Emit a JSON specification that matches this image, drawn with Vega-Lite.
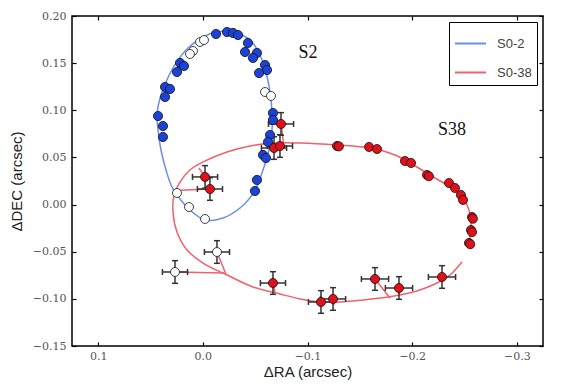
{
  "$schema": "https://vega.github.io/schema/vega-lite/v6.json",
  "width": 471,
  "height": 330,
  "autosize": "none",
  "padding": {"left": 72, "top": 16, "right": 19, "bottom": 43},
  "background": "white",
  "config": {
    "view": {"stroke": "#000", "strokeWidth": 1.5},
    "axis": {
      "grid": false,
      "domain": false,
      "tickSize": -4,
      "tickColor": "#000",
      "tickWidth": 1.2,
      "labelFont": "DejaVu Serif",
      "labelFontSize": 11,
      "labelColor": "#555",
      "titleFont": "Liberation Sans",
      "titleFontSize": 15,
      "titleFontWeight": "normal",
      "titleColor": "#222"
    }
  },
  "datasets": {
    "orbits": [
      {"star": "S0-2", "i": 0, "x": -0.0212, "y": 0.1841},
      {"star": "S0-2", "i": 1, "x": -0.0355, "y": 0.1809},
      {"star": "S0-2", "i": 2, "x": -0.0470, "y": 0.1724},
      {"star": "S0-2", "i": 3, "x": -0.0546, "y": 0.1586},
      {"star": "S0-2", "i": 4, "x": -0.0603, "y": 0.1406},
      {"star": "S0-2", "i": 5, "x": -0.0642, "y": 0.1194},
      {"star": "S0-2", "i": 6, "x": -0.0661, "y": 0.0982},
      {"star": "S0-2", "i": 7, "x": -0.0661, "y": 0.0791},
      {"star": "S0-2", "i": 8, "x": -0.0632, "y": 0.0579},
      {"star": "S0-2", "i": 9, "x": -0.0575, "y": 0.0367},
      {"star": "S0-2", "i": 10, "x": -0.0489, "y": 0.0133},
      {"star": "S0-2", "i": 11, "x": -0.0355, "y": -0.0036},
      {"star": "S0-2", "i": 12, "x": -0.0193, "y": -0.0142},
      {"star": "S0-2", "i": 13, "x": -0.0021, "y": -0.0164},
      {"star": "S0-2", "i": 14, "x": 0.0123, "y": -0.0057},
      {"star": "S0-2", "i": 15, "x": 0.0218, "y": 0.0059},
      {"star": "S0-2", "i": 16, "x": 0.0295, "y": 0.0186},
      {"star": "S0-2", "i": 17, "x": 0.0352, "y": 0.0367},
      {"star": "S0-2", "i": 18, "x": 0.0400, "y": 0.0579},
      {"star": "S0-2", "i": 19, "x": 0.0428, "y": 0.0791},
      {"star": "S0-2", "i": 20, "x": 0.0438, "y": 0.0950},
      {"star": "S0-2", "i": 21, "x": 0.0409, "y": 0.1130},
      {"star": "S0-2", "i": 22, "x": 0.0352, "y": 0.1300},
      {"star": "S0-2", "i": 23, "x": 0.0256, "y": 0.1502},
      {"star": "S0-2", "i": 24, "x": 0.0142, "y": 0.1661},
      {"star": "S0-2", "i": 25, "x": 0.0027, "y": 0.1756},
      {"star": "S0-2", "i": 26, "x": -0.0088, "y": 0.1820},
      {"star": "S0-2", "i": 27, "x": -0.0212, "y": 0.1841},
      {"star": "S0-38", "i": 0, "x": -0.2476, "y": -0.0609},
      {"star": "S0-38", "i": 1, "x": -0.2361, "y": -0.0747},
      {"star": "S0-38", "i": 2, "x": -0.2237, "y": -0.0832},
      {"star": "S0-38", "i": 3, "x": -0.2075, "y": -0.0906},
      {"star": "S0-38", "i": 4, "x": -0.1884, "y": -0.0959},
      {"star": "S0-38", "i": 5, "x": -0.1693, "y": -0.0991},
      {"star": "S0-38", "i": 6, "x": -0.1530, "y": -0.1012},
      {"star": "S0-38", "i": 7, "x": -0.1310, "y": -0.1033},
      {"star": "S0-38", "i": 8, "x": -0.1119, "y": -0.1033},
      {"star": "S0-38", "i": 9, "x": -0.0928, "y": -0.1001},
      {"star": "S0-38", "i": 10, "x": -0.0737, "y": -0.0948},
      {"star": "S0-38", "i": 11, "x": -0.0479, "y": -0.0874},
      {"star": "S0-38", "i": 12, "x": -0.0231, "y": -0.0747},
      {"star": "S0-38", "i": 13, "x": -0.0002, "y": -0.0620},
      {"star": "S0-38", "i": 14, "x": 0.0151, "y": -0.0482},
      {"star": "S0-38", "i": 15, "x": 0.0247, "y": -0.0291},
      {"star": "S0-38", "i": 16, "x": 0.0285, "y": -0.0079},
      {"star": "S0-38", "i": 17, "x": 0.0275, "y": 0.0102},
      {"star": "S0-38", "i": 18, "x": 0.0218, "y": 0.0239},
      {"star": "S0-38", "i": 19, "x": 0.0123, "y": 0.0367},
      {"star": "S0-38", "i": 20, "x": -0.0002, "y": 0.0452},
      {"star": "S0-38", "i": 21, "x": -0.0231, "y": 0.0558},
      {"star": "S0-38", "i": 22, "x": -0.0451, "y": 0.0621},
      {"star": "S0-38", "i": 23, "x": -0.0670, "y": 0.0653},
      {"star": "S0-38", "i": 24, "x": -0.0928, "y": 0.0653},
      {"star": "S0-38", "i": 25, "x": -0.1282, "y": 0.0632},
      {"star": "S0-38", "i": 26, "x": -0.1597, "y": 0.0600},
      {"star": "S0-38", "i": 27, "x": -0.1836, "y": 0.0526},
      {"star": "S0-38", "i": 28, "x": -0.2027, "y": 0.0409},
      {"star": "S0-38", "i": 29, "x": -0.2218, "y": 0.0282},
      {"star": "S0-38", "i": 30, "x": -0.2380, "y": 0.0176},
      {"star": "S0-38", "i": 31, "x": -0.2486, "y": 0.0070},
      {"star": "S0-38", "i": 32, "x": -0.2543, "y": -0.0057},
      {"star": "S0-38", "i": 33, "x": -0.2562, "y": -0.0217},
      {"star": "S0-38", "i": 34, "x": -0.2552, "y": -0.0354},
      {"star": "S0-38", "i": 35, "x": -0.2533, "y": -0.0460}
    ],
    "pts": [
      {"cls": "S2", "x": -0.0126, "y": 0.1809},
      {"cls": "S2", "x": -0.0231, "y": 0.1830},
      {"cls": "S2", "x": -0.0288, "y": 0.1820},
      {"cls": "S2", "x": -0.0336, "y": 0.1798},
      {"cls": "S2", "x": -0.0431, "y": 0.1714},
      {"cls": "S2", "x": -0.0517, "y": 0.1608},
      {"cls": "S2", "x": -0.0403, "y": 0.1618},
      {"cls": "S2", "x": -0.0479, "y": 0.1555},
      {"cls": "S2", "x": -0.0594, "y": 0.1480},
      {"cls": "S2", "x": -0.0613, "y": 0.1427},
      {"cls": "S2", "x": -0.0537, "y": 0.1395},
      {"cls": "S2", "x": -0.0670, "y": 0.0971},
      {"cls": "S2", "x": -0.0670, "y": 0.0897},
      {"cls": "S2", "x": -0.0642, "y": 0.0738},
      {"cls": "S2", "x": -0.0623, "y": 0.0664},
      {"cls": "S2", "x": -0.0575, "y": 0.0526},
      {"cls": "S2", "x": -0.0603, "y": 0.0494},
      {"cls": "S2", "x": -0.0517, "y": 0.0261},
      {"cls": "S2", "x": -0.0498, "y": 0.0144},
      {"cls": "S2", "x": 0.0218, "y": 0.1502},
      {"cls": "S2", "x": 0.0180, "y": 0.1470},
      {"cls": "S2", "x": 0.0247, "y": 0.1406},
      {"cls": "S2", "x": 0.0361, "y": 0.1247},
      {"cls": "S2", "x": 0.0314, "y": 0.1226},
      {"cls": "S2", "x": 0.0361, "y": 0.1141},
      {"cls": "S2", "x": 0.0428, "y": 0.0939},
      {"cls": "S2", "x": 0.0381, "y": 0.0833},
      {"cls": "S2", "x": 0.0381, "y": 0.0717},
      {"cls": "open", "x": 0.0027, "y": 0.1724},
      {"cls": "open", "x": -0.0011, "y": 0.1745},
      {"cls": "open", "x": 0.0094, "y": 0.1629},
      {"cls": "open", "x": 0.0123, "y": 0.1597},
      {"cls": "open", "x": -0.0594, "y": 0.1194},
      {"cls": "open", "x": -0.0651, "y": 0.1152},
      {"cls": "open", "x": 0.0247, "y": 0.0123},
      {"cls": "open", "x": 0.0132, "y": -0.0026},
      {"cls": "open", "x": -0.0021, "y": -0.0153},
      {"cls": "S38", "x": -0.1282, "y": 0.0621},
      {"cls": "S38", "x": -0.1300, "y": 0.0617},
      {"cls": "S38", "x": -0.1588, "y": 0.0611},
      {"cls": "S38", "x": -0.1664, "y": 0.0589},
      {"cls": "S38", "x": -0.1931, "y": 0.0462},
      {"cls": "S38", "x": -0.1989, "y": 0.0441},
      {"cls": "S38", "x": -0.2142, "y": 0.0314},
      {"cls": "S38", "x": -0.2160, "y": 0.0300},
      {"cls": "S38", "x": -0.2352, "y": 0.0229},
      {"cls": "S38", "x": -0.2409, "y": 0.0176},
      {"cls": "S38", "x": -0.2466, "y": 0.0102},
      {"cls": "S38", "x": -0.2486, "y": 0.0049},
      {"cls": "S38", "x": -0.2572, "y": -0.0132},
      {"cls": "S38", "x": -0.2580, "y": -0.0150},
      {"cls": "S38", "x": -0.2562, "y": -0.0270},
      {"cls": "S38", "x": -0.2572, "y": -0.0292},
      {"cls": "S38", "x": -0.2543, "y": -0.0407},
      {"cls": "S38", "x": -0.2555, "y": -0.0420}
    ],
    "astro": [
      {"cls": "S38", "x": -0.0747, "y": 0.0855, "xlo": -0.0867, "xhi": -0.0627, "ylo": 0.0735, "yhi": 0.0975},
      {"cls": "S38", "x": -0.0680, "y": 0.0600, "xlo": -0.0800, "xhi": -0.0560, "ylo": 0.0480, "yhi": 0.0720},
      {"cls": "S38", "x": -0.0737, "y": 0.0621, "xlo": -0.0857, "xhi": -0.0617, "ylo": 0.0501, "yhi": 0.0741},
      {"cls": "S38", "x": -0.0021, "y": 0.0293, "xlo": -0.0141, "xhi": 0.0099, "ylo": 0.0173, "yhi": 0.0413},
      {"cls": "S38", "x": -0.0068, "y": 0.0165, "xlo": -0.0188, "xhi": 0.0052, "ylo": 0.0045, "yhi": 0.0285},
      {"cls": "S38", "x": -0.0670, "y": -0.0832, "xlo": -0.0790, "xhi": -0.0550, "ylo": -0.0952, "yhi": -0.0712},
      {"cls": "S38", "x": -0.1129, "y": -0.1033, "xlo": -0.1249, "xhi": -0.1009, "ylo": -0.1153, "yhi": -0.0913},
      {"cls": "S38", "x": -0.1244, "y": -0.1001, "xlo": -0.1364, "xhi": -0.1124, "ylo": -0.1121, "yhi": -0.0881},
      {"cls": "S38", "x": -0.1645, "y": -0.0789, "xlo": -0.1775, "xhi": -0.1515, "ylo": -0.0909, "yhi": -0.0669},
      {"cls": "S38", "x": -0.1874, "y": -0.0885, "xlo": -0.2004, "xhi": -0.1744, "ylo": -0.1005, "yhi": -0.0765},
      {"cls": "S38", "x": -0.2285, "y": -0.0768, "xlo": -0.2415, "xhi": -0.2155, "ylo": -0.0888, "yhi": -0.0648},
      {"cls": "open", "x": -0.0135, "y": -0.0503, "xlo": -0.0255, "xhi": -0.0015, "ylo": -0.0623, "yhi": -0.0383},
      {"cls": "open", "x": 0.0266, "y": -0.0715, "xlo": 0.0146, "xhi": 0.0386, "ylo": -0.0835, "yhi": -0.0595}
    ],
    "residuals": [
      {"x": 0.0266, "y": -0.0715, "x2": -0.0202, "y2": -0.0726},
      {"x": -0.0135, "y": -0.0503, "x2": -0.0220, "y2": -0.0736},
      {"x": -0.1645, "y": -0.0789, "x2": -0.1788, "y2": -0.0991},
      {"x": -0.0747, "y": 0.0855, "x2": -0.0770, "y2": 0.0653},
      {"x": -0.0068, "y": 0.0165, "x2": 0.0275, "y2": 0.0150},
      {"x": -0.0021, "y": 0.0293, "x2": 0.0037, "y2": 0.0388},
      {"x": -0.0670, "y": -0.0832, "x2": -0.0690, "y2": -0.0938},
      {"x": -0.1874, "y": -0.0885, "x2": -0.1880, "y2": -0.0960}
    ],
    "labels": [
      {"x": -0.1005, "y": 0.1608, "t": "S2"},
      {"x": -0.2380, "y": 0.0791, "t": "S38"}
    ]
  },
  "layer": [
    {
      "data": {"name": "orbits"},
      "mark": {"type": "line", "interpolate": "catmull-rom", "strokeWidth": 1.5},
      "encoding": {
        "x": {
          "field": "x", "type": "quantitative",
          "scale": {"domain": [-0.325, 0.125], "reverse": true, "nice": false, "zero": false},
          "axis": {"orient": "bottom", "values": [0.1, 0, -0.1, -0.2, -0.3], "format": ".1f", "title": "ΔRA (arcsec)", "labelPadding": 8, "titlePadding": 3}
        },
        "y": {
          "field": "y", "type": "quantitative",
          "scale": {"domain": [-0.15, 0.2], "nice": false, "zero": false},
          "axis": {"orient": "left", "values": [-0.15, -0.1, -0.05, 0, 0.05, 0.1, 0.15, 0.2], "format": ".2f", "title": "ΔDEC (arcsec)", "labelPadding": 10, "titlePadding": 8}
        },
        "stroke": {
          "field": "star", "type": "nominal",
          "scale": {"domain": ["S0-2", "S0-38"], "range": ["#6d8ee6", "#f2606b"]},
          "legend": {
            "orient": "top-right", "offset": 6, "title": null,
            "strokeColor": "#000", "fillColor": "#fff",
            "padding": 5, "symbolType": "stroke", "symbolSize": 960, "symbolStrokeWidth": 2,
            "labelFont": "Liberation Sans", "labelFontSize": 13, "labelColor": "#444",
            "labelOffset": 10, "rowPadding": 5
          }
        },
        "order": {"field": "i", "type": "quantitative"}
      }
    },
    {
      "data": {"name": "orbits"},
      "mark": {"type": "point", "opacity": 0},
      "encoding": {
        "x": {"field": "x", "type": "quantitative", "axis": {"orient": "top", "values": [0.1, 0, -0.1, -0.2, -0.3], "labels": false, "title": null}},
        "y": {"field": "y", "type": "quantitative", "axis": {"orient": "right", "values": [-0.15, -0.1, -0.05, 0, 0.05, 0.1, 0.15, 0.2], "labels": false, "title": null}}
      }
    },
    {
      "data": {"name": "residuals"},
      "mark": {"type": "rule", "color": "#f2606b", "strokeWidth": 1.5},
      "encoding": {
        "x": {"field": "x", "type": "quantitative", "axis": null},
        "y": {"field": "y", "type": "quantitative", "axis": null},
        "x2": {"field": "x2"},
        "y2": {"field": "y2"}
      }
    },
    {
      "data": {"name": "astro"},
      "mark": {"type": "rule", "color": "#333", "strokeWidth": 1.5},
      "encoding": {
        "x": {"field": "xlo", "type": "quantitative", "axis": null},
        "x2": {"field": "xhi"},
        "y": {"field": "y", "type": "quantitative", "axis": null}
      }
    },
    {
      "data": {"name": "astro"},
      "mark": {"type": "rule", "color": "#333", "strokeWidth": 1.5},
      "encoding": {
        "x": {"field": "x", "type": "quantitative", "axis": null},
        "y": {"field": "ylo", "type": "quantitative", "axis": null},
        "y2": {"field": "yhi"}
      }
    },
    {
      "data": {"name": "astro"},
      "mark": {"type": "tick", "orient": "vertical", "color": "#333", "size": 6, "thickness": 1.5, "opacity": 1},
      "encoding": {
        "x": {"field": "xlo", "type": "quantitative", "axis": null},
        "y": {"field": "y", "type": "quantitative", "axis": null}
      }
    },
    {
      "data": {"name": "astro"},
      "mark": {"type": "tick", "orient": "vertical", "color": "#333", "size": 6, "thickness": 1.5, "opacity": 1},
      "encoding": {
        "x": {"field": "xhi", "type": "quantitative", "axis": null},
        "y": {"field": "y", "type": "quantitative", "axis": null}
      }
    },
    {
      "data": {"name": "astro"},
      "mark": {"type": "tick", "orient": "horizontal", "color": "#333", "size": 6, "thickness": 1.5, "opacity": 1},
      "encoding": {
        "x": {"field": "x", "type": "quantitative", "axis": null},
        "y": {"field": "ylo", "type": "quantitative", "axis": null}
      }
    },
    {
      "data": {"name": "astro"},
      "mark": {"type": "tick", "orient": "horizontal", "color": "#333", "size": 6, "thickness": 1.5, "opacity": 1},
      "encoding": {
        "x": {"field": "x", "type": "quantitative", "axis": null},
        "y": {"field": "yhi", "type": "quantitative", "axis": null}
      }
    },
    {
      "data": {"name": "pts"},
      "mark": {"type": "point", "shape": "circle", "filled": true, "stroke": "#111", "strokeWidth": 0.8, "opacity": 1},
      "encoding": {
        "x": {"field": "x", "type": "quantitative", "axis": null},
        "y": {"field": "y", "type": "quantitative", "axis": null},
        "fill": {"field": "cls", "type": "nominal", "scale": {"domain": ["S2", "S38", "open"], "range": ["#1c42d8", "#e0101a", "#ffffff"]}, "legend": null},
        "size": {"field": "cls", "type": "nominal", "scale": {"domain": ["S2", "S38", "open"], "range": [85, 80, 60]}, "legend": null}
      }
    },
    {
      "data": {"name": "astro"},
      "mark": {"type": "point", "shape": "circle", "filled": true, "stroke": "#111", "strokeWidth": 0.8, "opacity": 1},
      "encoding": {
        "x": {"field": "x", "type": "quantitative", "axis": null},
        "y": {"field": "y", "type": "quantitative", "axis": null},
        "fill": {"field": "cls", "type": "nominal", "legend": null},
        "size": {"field": "cls", "type": "nominal", "legend": null}
      }
    },
    {
      "data": {"name": "labels"},
      "mark": {"type": "text", "font": "Liberation Serif", "fontSize": 18, "color": "#111"},
      "encoding": {
        "x": {"field": "x", "type": "quantitative", "axis": null},
        "y": {"field": "y", "type": "quantitative", "axis": null},
        "text": {"field": "t", "type": "nominal"}
      }
    }
  ],
  "resolve": {"axis": {"x": "independent", "y": "independent"}}
}
